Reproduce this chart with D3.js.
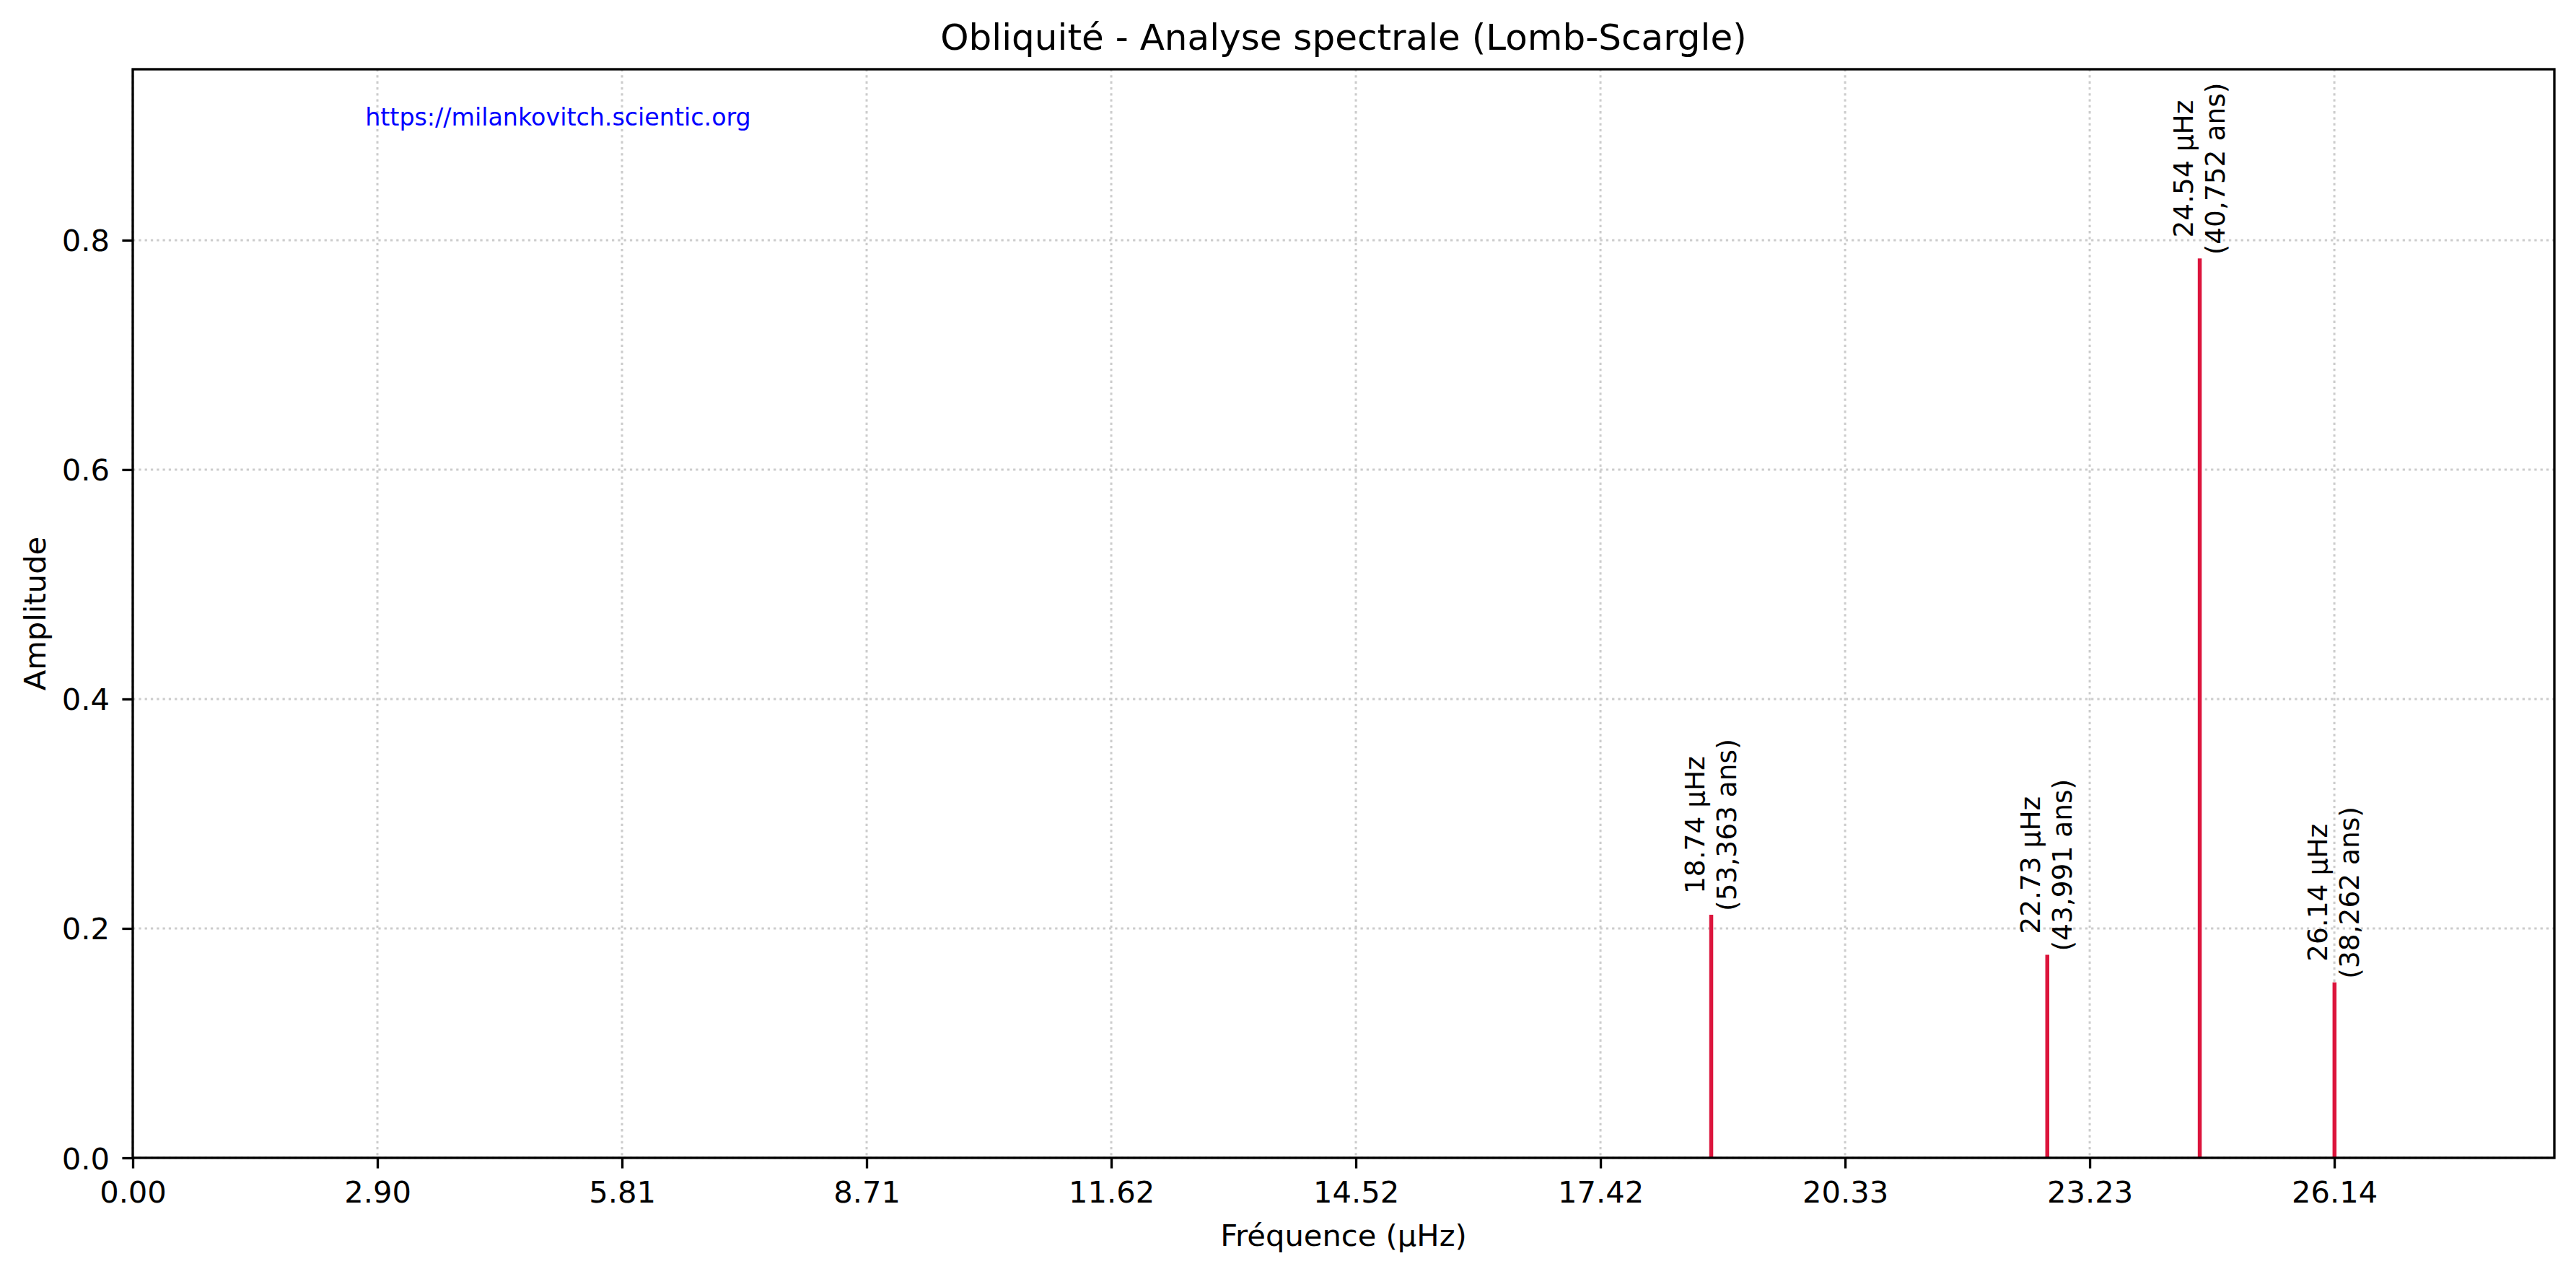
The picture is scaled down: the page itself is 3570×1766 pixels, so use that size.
<!DOCTYPE html>
<html>
<head>
<meta charset="utf-8">
<script src="https://cdn.jsdelivr.net/npm/d3@7"></script>
<style>
  body { margin: 0; background: #fff; }
  text { font-family: "DejaVu Sans", sans-serif; fill: #000; }
</style>
</head>
<body>
<script>
// Peaks found by the Lomb-Scargle periodogram
var freqs = [18.74, 22.73, 24.54, 26.14];
var amps = [0.212, 0.177, 0.784, 0.153];
var periods = ["53,363", "43,991", "40,752", "38,262"];

// Axis ticks
var xTicks = [0, 2.9042, 5.8084, 8.7126, 11.6168, 14.521, 17.4252, 20.3294, 23.2336, 26.1378];
var xTickLabels = ["0.00", "2.90", "5.81", "8.71", "11.62", "14.52", "17.42", "20.33", "23.23", "26.14"];
var yTicks = [0, 0.2, 0.4, 0.6, 0.8];
var yTickLabels = ["0.0", "0.2", "0.4", "0.6", "0.8"];

var W = 3570, H = 1766;
var margin = {top: 96, right: 30, bottom: 161, left: 184},
    width = W - margin.left - margin.right,
    height = H - margin.top - margin.bottom;

var svg = d3.select("body")
  .append("svg")
  .attr("width", W)
  .attr("height", H)
  .style("background", "#fff");

var g = svg.append("g")
  .attr("transform", "translate(" + margin.left + "," + margin.top + ")");

// Scales
var x = d3.scaleLinear().domain([0, 28.75]).range([0, width]);
var y = d3.scaleLinear().domain([0, 0.949]).range([height, 0]);

// Grid
g.append("g").selectAll("line")
  .data(xTicks)
  .enter().append("line")
  .attr("x1", function(d) { return x(d); })
  .attr("x2", function(d) { return x(d); })
  .attr("y1", 0)
  .attr("y2", height)
  .attr("stroke", "#cccccc")
  .attr("stroke-width", 3)
  .attr("stroke-dasharray", "3.3,5");

g.append("g").selectAll("line")
  .data(yTicks)
  .enter().append("line")
  .attr("x1", 0)
  .attr("x2", width)
  .attr("y1", function(d) { return y(d); })
  .attr("y2", function(d) { return y(d); })
  .attr("stroke", "#cccccc")
  .attr("stroke-width", 3)
  .attr("stroke-dasharray", "3.3,5");

// Stems
g.append("g").selectAll("line")
  .data(freqs)
  .enter().append("line")
  .attr("x1", function(d) { return x(d); })
  .attr("x2", function(d) { return x(d); })
  .attr("y1", y(0))
  .attr("y2", function(d, i) { return y(amps[i]); })
  .attr("stroke", "#dc143c")
  .attr("stroke-width", 5.5);

// Peak annotations (rotated, two centred lines)
var labels = g.append("g").selectAll("g")
  .data(freqs)
  .enter().append("g")
  .attr("transform", function(d, i) {
    return "translate(" + x(d) + "," + (y(amps[i]) - 5) + ") rotate(-90)";
  });

labels.each(function(d, i) {
  var lab = d3.select(this);
  var t1 = lab.append("text")
    .attr("y", -10)
    .style("font-size", "37.5px")
    .attr("text-anchor", "middle")
    .text(d.toFixed(2) + " \u03bcHz");
  var t2 = lab.append("text")
    .attr("y", 34)
    .style("font-size", "37.5px")
    .attr("text-anchor", "middle")
    .text("(" + periods[i] + " ans)");
  var len = Math.max(t1.node().getComputedTextLength(), t2.node().getComputedTextLength());
  t1.attr("x", len / 2);
  t2.attr("x", len / 2);
});

// Axes
var xAxis = g.append("g")
  .attr("transform", "translate(0," + height + ")")
  .call(d3.axisBottom(x)
    .tickValues(xTicks)
    .tickFormat(function(d, i) { return xTickLabels[i]; })
    .tickSize(14.6)
    .tickPadding(18)
    .tickSizeOuter(0));

var yAxis = g.append("g")
  .call(d3.axisLeft(y)
    .tickValues(yTicks)
    .tickFormat(function(d, i) { return yTickLabels[i]; })
    .tickSize(14.6)
    .tickPadding(17.4)
    .tickSizeOuter(0));

[xAxis, yAxis].forEach(function(a) {
  a.select(".domain").remove();
  a.selectAll(".tick line").attr("stroke", "#000").attr("stroke-width", 3.33);
  a.selectAll(".tick text")
    .style("font-family", "'DejaVu Sans', sans-serif")
    .style("font-size", "41.67px")
    .attr("fill", "#000");
});
yAxis.selectAll(".tick text").attr("dy", "0.36em");

// Frame
g.append("rect")
  .attr("x", 0)
  .attr("y", 0)
  .attr("width", width)
  .attr("height", height)
  .attr("fill", "none")
  .attr("stroke", "#000")
  .attr("stroke-width", 3.33);

// Website tag
g.append("text")
  .attr("x", x(2.76))
  .attr("y", y(0.9))
  .style("font-size", "33.3px")
  .style("fill", "#0000ff")
  .text("https://milankovitch.scientic.org");

// Title
svg.append("text")
  .attr("x", margin.left + width / 2)
  .attr("y", 69)
  .attr("text-anchor", "middle")
  .style("font-size", "50px")
  .text("Obliquit\u00e9 - Analyse spectrale (Lomb-Scargle)");

// x-axis label
svg.append("text")
  .attr("x", margin.left + width / 2)
  .attr("y", 1727)
  .attr("text-anchor", "middle")
  .style("font-size", "41.67px")
  .text("Fr\u00e9quence (\u03bcHz)");

// y-axis label
svg.append("text")
  .attr("transform", "rotate(-90)")
  .attr("x", -(margin.top + height / 2))
  .attr("y", 63)
  .attr("text-anchor", "middle")
  .style("font-size", "41.67px")
  .text("Amplitude");
</script>
</body>
</html>
